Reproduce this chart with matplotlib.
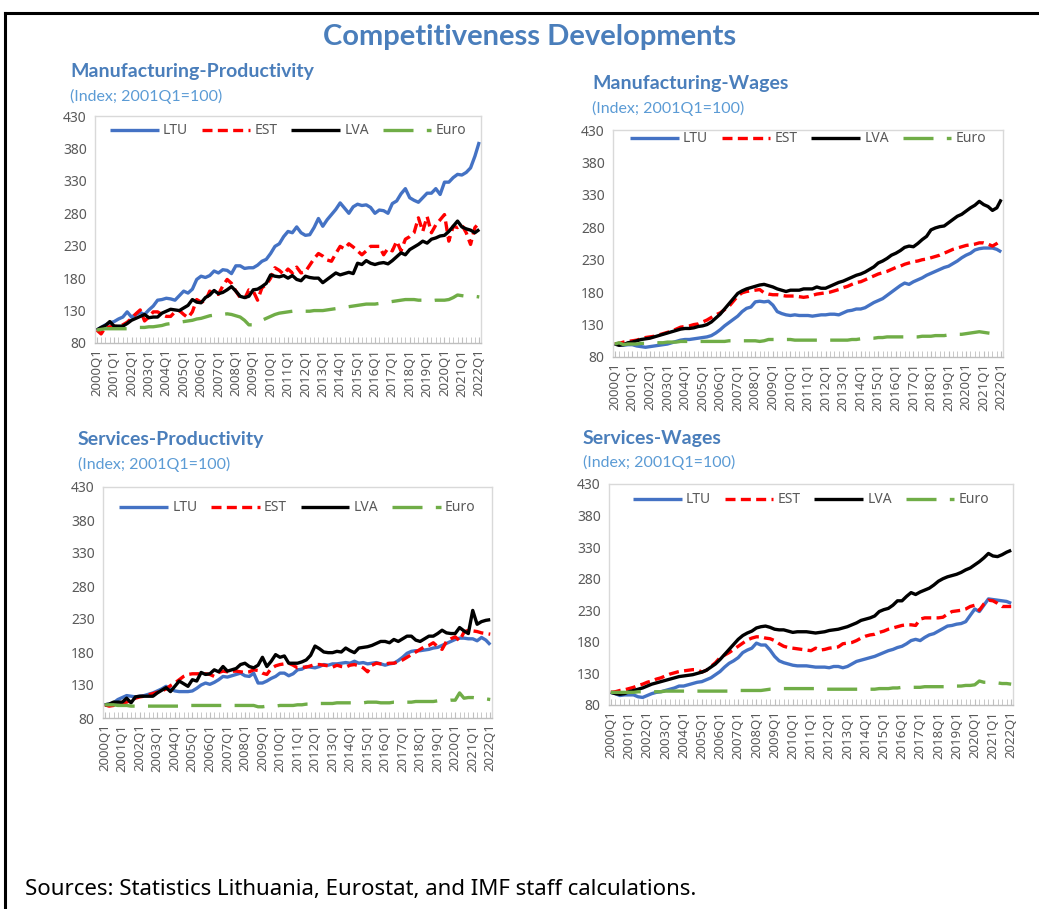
import matplotlib.pyplot as plt
from matplotlib.lines import Line2D
import numpy as np

plt.rcParams["font.family"] = ["Noto Sans", "DejaVu Sans"]
TITLE_FONT = ["Lato", "Open Sans", "DejaVu Sans"]

# -- quarterly index values, 2000Q1 .. 2022Q1 (89 quarters) --
TICK_LABELS = ["2000Q1", "2001Q1", "2002Q1", "2003Q1", "2004Q1", "2005Q1",
               "2006Q1", "2007Q1", "2008Q1", "2009Q1", "2010Q1", "2011Q1",
               "2012Q1", "2013Q1", "2014Q1", "2015Q1", "2016Q1", "2017Q1",
               "2018Q1", "2019Q1", "2020Q1", "2021Q1", "2022Q1"]
SERIES = ["LTU", "EST", "LVA", "Euro"]

mfg_prod_ltu = [100, 104, 108, 111, 113, 117, 120, 128,
                120, 124, 127, 124, 131, 137, 146, 147,
                149, 148, 146, 153, 160, 157, 163, 178,
                183, 181, 184, 191, 188, 193, 192, 187,
                199, 199, 195, 196, 196, 200, 206, 209,
                218, 229, 233, 244, 252, 250, 259, 250,
                246, 247, 258, 272, 260, 270, 278, 286,
                296, 288, 280, 290, 294, 292, 293, 289,
                280, 285, 284, 280, 295, 299, 310, 318,
                304, 300, 297, 304, 311, 311, 318, 309,
                328, 328, 335, 340, 339, 343, 350, 368, 390]
mfg_prod_est = [100, 94, 104, 105, 106, 105, 108, 112,
                118, 125, 131, 114, 120, 128, 128, 124,
                121, 121, 128, 130, 124, 119, 128, 147,
                143, 145, 160, 155, 155, 168, 178, 172,
                160, 150, 148, 162, 160, 146, 165, 170,
                180, 196, 192, 186, 194, 188, 197, 188,
                190, 200, 210, 218, 214, 208, 206, 218,
                229, 225, 233, 228, 222, 216, 222, 229,
                229, 229, 216, 226, 222, 237, 222, 240,
                244, 250, 273, 252, 275, 250, 262, 270,
                278, 237, 260, 258, 262, 250, 232, 258, 265]
mfg_prod_lva = [100, 104, 107, 113, 106, 106, 106, 110,
                115, 118, 121, 124, 119, 120, 120, 126,
                129, 132, 131, 130, 134, 138, 147, 143,
                142, 150, 154, 161, 156, 158, 162, 167,
                160, 152, 150, 152, 162, 163, 167, 172,
                185, 183, 182, 184, 180, 184, 178, 176,
                183, 181, 180, 180, 173, 178, 183, 188,
                185, 187, 189, 187, 203, 201, 207, 203,
                201, 203, 204, 202, 207, 213, 219, 216,
                224, 228, 232, 237, 234, 240, 242, 245,
                246, 252, 260, 268, 259, 256, 254, 250, 255]
mfg_prod_euro = [100, 101, 102, 102, 102, 102, 102, 102,
                 103, 104, 104, 104, 105, 105, 106, 107,
                 109, 110, 111, 112, 113, 114, 115, 117,
                 118, 120, 122, 123, 124, 124, 125, 124,
                 122, 120, 115, 108, 108, 112, 115, 118,
                 121, 124, 126, 127, 128, 129, 129, 129,
                 129, 129, 130, 130, 130, 131, 132, 133,
                 134, 135, 136, 137, 138, 139, 140, 140,
                 140, 141, 142, 143, 144, 145, 146, 147,
                 147, 147, 146, 146, 145, 145, 146, 146,
                 146, 147, 150, 154, 153, 152, 152, 152, 151]

mfg_wage_ltu = [100, 99, 98, 99, 99, 97, 96, 95,
                96, 97, 98, 99, 100, 102, 104, 106,
                107, 107, 108, 109, 110, 111, 113, 117,
                122, 128, 133, 138, 143, 150, 155, 157,
                165, 166, 165, 166, 160, 150, 147, 145,
                144, 145, 144, 144, 144, 143, 144, 145,
                145, 146, 146, 145, 148, 151, 152, 154,
                154, 156, 160, 164, 167, 170, 175, 180,
                185, 190, 194, 192, 196, 199, 202, 206,
                209, 212, 215, 218, 220, 224, 228, 233,
                237, 240, 245, 247, 248, 248, 248, 246, 242]
mfg_wage_est = [100, 101, 103, 104, 105, 106, 108, 110,
                111, 112, 114, 116, 118, 120, 123, 126,
                127, 128, 130, 131, 134, 137, 141, 145,
                148, 153, 158, 166, 174, 179, 181, 182,
                183, 184, 179, 177, 176, 176, 175, 174,
                174, 174, 173, 172, 173, 175, 177, 178,
                179, 180, 182, 184, 187, 189, 192, 195,
                196, 199, 202, 205, 208, 210, 212, 215,
                218, 220, 223, 225, 227, 228, 230, 231,
                233, 235, 237, 240, 243, 246, 248, 250,
                252, 253, 254, 256, 256, 254, 251, 255, 260]
mfg_wage_lva = [100, 98, 99, 102, 103, 105, 107, 108,
                109, 111, 113, 115, 117, 119, 121, 123,
                124, 124, 125, 127, 128, 130, 134, 140,
                146, 154, 162, 170, 178, 182, 185, 187,
                189, 191, 192, 190, 188, 185, 183, 181,
                183, 183, 183, 185, 185, 185, 188, 186,
                186, 189, 192, 195, 197, 200, 203, 206,
                208, 211, 215, 219, 225, 228, 232, 237,
                240, 244, 249, 251, 250, 255, 261, 266,
                276, 279, 281, 282, 287, 292, 297, 300,
                305, 310, 314, 320, 315, 312, 306, 310, 323]
mfg_wage_euro = [100, 102, 99, 100, 100, 100, 101, 101,
                 101, 102, 102, 102, 103, 103, 103, 104,
                 104, 104, 104, 104, 104, 104, 104, 104,
                 104, 104, 105, 105, 105, 105, 105, 105,
                 105, 104, 105, 107, 107, 107, 107, 107,
                 107, 106, 106, 106, 106, 106, 106, 106,
                 106, 106, 106, 106, 106, 106, 107, 107,
                 108, 108, 109, 109, 110, 110, 111, 111,
                 111, 111, 111, 111, 111, 111, 112, 112,
                 112, 113, 113, 113, 114, 114, 115, 115,
                 116, 117, 118, 119, 118, 117, 116, 114, 112]

srv_prod_ltu = [100, 101, 103, 108, 111, 114, 113, 112,
                113, 114, 116, 118, 121, 124, 128, 124,
                121, 120, 120, 120, 121, 125, 130, 133,
                131, 134, 138, 143, 142, 144, 146, 148,
                144, 143, 148, 133, 133, 136, 140, 143,
                148, 148, 144, 147, 153, 154, 158, 157,
                156, 158, 161, 160, 162, 162, 163, 164,
                163, 166, 163, 164, 162, 163, 164, 162,
                160, 162, 163, 167, 172, 178, 181, 182,
                182, 183, 184, 186, 187, 190, 193, 196,
                199, 201, 201, 200, 200, 197, 202, 198, 191]
srv_prod_est = [100, 98, 99, 101, 103, 104, 107, 110,
                112, 113, 115, 117, 119, 121, 124, 129,
                133, 138, 143, 146, 147, 147, 147, 147,
                146, 143, 149, 151, 150, 151, 151, 150,
                149, 150, 153, 152, 148, 146, 155, 159,
                161, 162, 163, 160, 156, 157, 157, 159,
                161, 161, 160, 159, 157, 160, 158, 157,
                160, 161, 159, 156, 150, 160, 163, 162,
                162, 163, 163, 165, 168, 172, 176, 180,
                184, 188, 190, 194, 188, 184, 196, 200,
                203, 197, 210, 213, 212, 211, 209, 208, 207]
srv_prod_lva = [100, 101, 104, 104, 104, 110, 103, 112,
                113, 113, 113, 113, 118, 122, 126, 120,
                128, 136, 132, 128, 138, 136, 149, 146,
                147, 153, 150, 158, 151, 153, 155, 161,
                163, 158, 156, 160, 172, 158, 166, 176,
                172, 174, 163, 163, 163, 165, 168, 175,
                189, 185, 180, 179, 179, 181, 180, 186,
                182, 179, 186, 187, 188, 190, 193, 196,
                196, 194, 199, 196, 200, 204, 204, 198,
                196, 200, 204, 204, 208, 213, 209, 208,
                208, 217, 212, 208, 243, 222, 226, 228, 229]
srv_prod_euro = [100, 100, 100, 99, 99, 99, 98, 98,
                 98, 98, 98, 98, 98, 98, 98, 98,
                 98, 98, 98, 99, 99, 99, 99, 99,
                 99, 99, 99, 99, 99, 99, 99, 99,
                 99, 99, 99, 97, 97, 98, 98, 98,
                 99, 99, 99, 99, 100, 100, 101, 101,
                 101, 102, 102, 102, 102, 103, 103, 103,
                 103, 103, 103, 103, 104, 104, 104, 103,
                 103, 103, 104, 104, 104, 104, 104, 105,
                 105, 105, 105, 105, 106, 106, 106, 107,
                 107, 118, 110, 111, 111, 110, 109, 109, 108]

srv_wage_ltu = [100, 98, 95, 96, 96, 96, 93, 92,
                95, 98, 100, 101, 103, 105, 107, 110,
                110, 112, 114, 116, 117, 120, 123, 128,
                133, 140, 146, 150, 155, 163, 167, 170,
                178, 175, 175, 167, 157, 150, 147, 145,
                143, 142, 142, 142, 141, 140, 140, 140,
                139, 141, 141, 139, 141, 145, 149, 151,
                153, 155, 157, 160, 163, 166, 168, 171,
                173, 177, 182, 184, 182, 187, 191, 193,
                197, 201, 205, 206, 208, 209, 212, 222,
                232, 228, 238, 248, 247, 246, 245, 244, 241]
srv_wage_est = [100, 101, 103, 104, 106, 108, 111, 113,
                116, 118, 121, 123, 126, 129, 131, 133,
                134, 135, 136, 136, 132, 135, 141, 147,
                155, 159, 163, 168, 173, 178, 183, 186,
                188, 188, 186, 185, 182, 177, 173, 171,
                170, 169, 168, 167, 166, 170, 167, 168,
                170, 171, 172, 177, 178, 179, 182, 186,
                189, 191, 192, 195, 197, 200, 202, 204,
                206, 207, 207, 206, 216, 218, 218, 218,
                218, 219, 224, 228, 229, 230, 232, 236,
                238, 230, 240, 246, 245, 241, 236, 236, 236]
srv_wage_lva = [100, 98, 97, 98, 101, 103, 105, 107,
                110, 113, 115, 117, 119, 121, 123, 125,
                126, 127, 128, 130, 132, 135, 140, 145,
                152, 160, 168, 176, 184, 190, 194, 197,
                202, 204, 205, 203, 200, 199, 199, 197,
                195, 196, 196, 196, 195, 194, 195, 196,
                198, 199, 200, 202, 204, 207, 210, 214,
                216, 218, 221, 228, 231, 233, 238, 245,
                245, 252, 258, 255, 259, 262, 265, 270,
                276, 280, 283, 285, 287, 290, 294, 297,
                302, 307, 313, 320, 316, 315, 318, 322, 325]
srv_wage_euro = [100, 100, 100, 100, 100, 100, 101, 101,
                 101, 101, 101, 101, 102, 102, 102, 102,
                 102, 102, 102, 102, 102, 102, 102, 102,
                 102, 102, 102, 103, 103, 103, 103, 103,
                 103, 103, 104, 105, 105, 106, 106, 106,
                 106, 106, 106, 106, 106, 106, 105, 105,
                 105, 105, 105, 105, 105, 105, 105, 105,
                 105, 105, 105, 106, 106, 106, 107, 107,
                 108, 108, 108, 108, 108, 109, 109, 109,
                 109, 109, 109, 110, 110, 110, 111, 111,
                 112, 118, 116, 116, 115, 115, 114, 114, 113]

# -- styles per series --
STYLES = {
    "LTU": dict(color="#4472C4", linestyle="-"),
    "EST": dict(color="#FF0000", dashes=(3.0, 1.6)),
    "LVA": dict(color="#000000", linestyle="-"),
    "Euro": dict(color="#70AD47", dashes=(9.0, 4.0)),
}
BLUE = "#4A7EBB"
SUB_BLUE = "#5B9BD5"
GREY = "#595959"

W, H = 1039, 909
fig = plt.figure(figsize=(W / 100, H / 100), dpi=100)

# panel: title, (title x, title y), axes box in px (left, top, right, bottom),
# legend centre offset below the axes top in px, data
panels = [
    ("Manufacturing-Productivity", (70, 72), (95, 116, 481, 343), 15,
     [mfg_prod_ltu, mfg_prod_est, mfg_prod_lva, mfg_prod_euro]),
    ("Manufacturing-Wages", (592, 84), (613, 130, 1003, 357), 9,
     [mfg_wage_ltu, mfg_wage_est, mfg_wage_lva, mfg_wage_euro]),
    ("Services-Productivity", (78, 440), (103, 487, 492, 718), 21,
     [srv_prod_ltu, srv_prod_est, srv_prod_lva, srv_prod_euro]),
    ("Services-Wages", (583, 438), (609, 484, 1013, 705), 16,
     [srv_wage_ltu, srv_wage_est, srv_wage_lva, srv_wage_euro]),
]

x = np.arange(len(mfg_prod_ltu))

for title, (tx, ty), (l, t, r, b), leg_off, data in panels:
    ax = fig.add_axes([l / W, 1 - b / H, (r - l) / W, (b - t) / H])
    for name, vals in zip(SERIES, data):
        ax.plot(x, vals, lw=2.4, label=name, solid_capstyle="butt",
                dash_capstyle="butt", **STYLES[name])
    ax.set_xlim(-0.4, x[-1] + 0.4)
    ax.set_ylim(80, 430)
    ax.set_yticks(np.arange(80, 431, 50))
    ax.set_xticks(x[::4])
    ax.set_xticklabels(TICK_LABELS, rotation=90)
    ax.set_xticks(x, minor=True)
    ax.tick_params(axis="x", which="both", direction="in", length=4,
                   color="#BFBFBF", labelsize=9.5, labelcolor=GREY, pad=4)
    ax.tick_params(axis="y", length=0, labelsize=10, labelcolor=GREY, pad=6)
    for s in ax.spines.values():
        s.set_color("#D9D9D9")
        s.set_linewidth(1.0)
    ax.spines["bottom"].set_color("#BFBFBF")
    leg = ax.legend(loc="center", ncol=4, frameon=False, fontsize=10,
                    handlelength=3.5, columnspacing=1.0, handletextpad=0.3,
                    borderpad=0, bbox_to_anchor=(0.5, 1 - leg_off / (b - t)))
    for txt in leg.get_texts():
        txt.set_color(GREY)
    fig.text(tx / W, 1 - ty / H, title, fontsize=14, fontweight="bold",
             family=TITLE_FONT, color=BLUE, ha="left", va="center")
    fig.text(tx / W, 1 - (ty + 24) / H, "(Index; 2001Q1=100)", fontsize=11.5,
             family=TITLE_FONT, color=SUB_BLUE, ha="left", va="center")

fig.text(530 / W, 1 - 37 / H, "Competitiveness Developments", fontsize=21,
         fontweight="bold", family=TITLE_FONT, color=BLUE,
         ha="center", va="center")
fig.text(25 / W, 1 - 890 / H,
         "Sources: Statistics Lithuania, Eurostat, and IMF staff calculations.",
         fontsize=16, color="black", ha="left", va="center")

# -- outer frame (top and left edges visible) --
fig.add_artist(Line2D([5 / W, 1.0], [1 - 13 / H, 1 - 13 / H], color="black",
                      lw=2.2, transform=fig.transFigure))
fig.add_artist(Line2D([5 / W, 5 / W], [1 - 13 / H, 0.0], color="black",
                      lw=2.2, transform=fig.transFigure))

fig.savefig("out.png", dpi=100)
plt.close(fig)
